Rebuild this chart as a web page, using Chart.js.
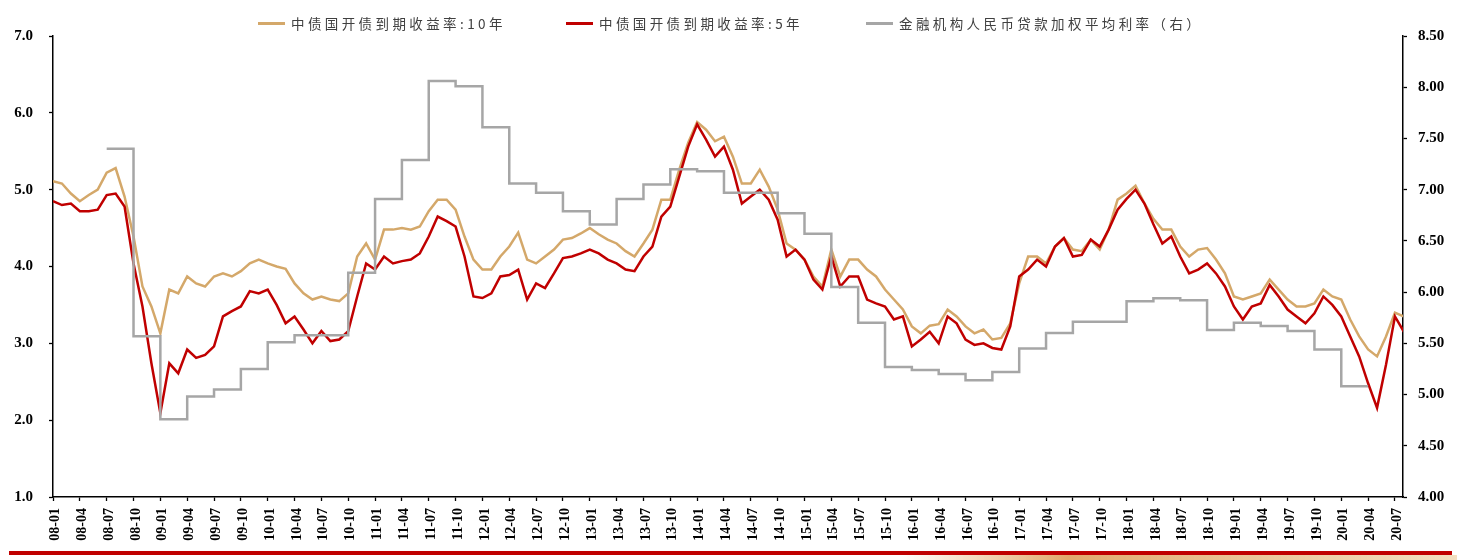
<!DOCTYPE html>
<html>
<head>
<meta charset="utf-8">
<script src="https://cdn.jsdelivr.net/npm/chart.js@4.4.1/dist/chart.umd.min.js"></script>
<style>
  html, body { margin: 0; padding: 0; background: #fff; }
  #wrap { position: relative; width: 1457px; height: 560px; }
  .item { position: absolute; top: 13px; display: flex; align-items: center; white-space: nowrap;
          font-family: "Noto Sans CJK SC", sans-serif; font-size: 13.5px; letter-spacing: 3.4px; color: #404040; }
  .swatch { width: 27px; height: 3px; margin-right: 6px; }
</style>
</head>
<body>
<div id="wrap">
  <canvas id="bondChart" width="1457" height="560"></canvas>
</div>
<script>
// month labels 08-01 .. 20-08 (index 0 = Jan 2008)
const months = []
for (let y = 8; y <= 20; y++) {
  for (let m = 1; m <= 12; m++) {
    months.push(String(y).padStart(2, '0') + '-' + String(m).padStart(2, '0'))
  }
}
const quarterTicks = months.map((_, i) => i).filter(i => i % 3 === 0 && i <= 150)

const seriesNames = ['中债国开债到期收益率:10年', '中债国开债到期收益率:5年', '金融机构人民币贷款加权平均利率（右）']

// monthly readings, 08-01 .. 20-08
const yield10y = [
  5.11, 5.08, 4.95, 4.85, 4.93, 5.00, 5.22, 5.28, 4.91, 4.39, 3.74, 3.48,
  3.13, 3.70, 3.65, 3.87, 3.78, 3.74, 3.87, 3.91, 3.87, 3.94, 4.04, 4.09,
  4.04, 4.00, 3.97, 3.78, 3.65, 3.57, 3.61, 3.57, 3.55, 3.65, 4.13, 4.30,
  4.09, 4.48, 4.48, 4.50, 4.48, 4.52, 4.72, 4.87, 4.87, 4.74, 4.39, 4.09,
  3.96, 3.96, 4.13, 4.26, 4.44, 4.09, 4.04, 4.13, 4.22, 4.35, 4.37, 4.43,
  4.50, 4.42, 4.35, 4.30, 4.20, 4.13, 4.30, 4.48, 4.87, 4.87, 5.26, 5.61,
  5.88, 5.78, 5.63, 5.69, 5.43, 5.08, 5.08, 5.26, 5.04, 4.74, 4.30, 4.22,
  4.09, 3.87, 3.74, 4.22, 3.87, 4.09, 4.09, 3.96, 3.87, 3.70, 3.57, 3.44,
  3.22, 3.13, 3.23, 3.25, 3.44, 3.35, 3.22, 3.13, 3.18, 3.05, 3.07, 3.26,
  3.78, 4.13, 4.13, 4.04, 4.26, 4.37, 4.22, 4.20, 4.35, 4.22, 4.48, 4.87,
  4.95, 5.05, 4.82, 4.62, 4.48, 4.48, 4.26, 4.13, 4.22, 4.24, 4.09, 3.91,
  3.61, 3.57, 3.61, 3.65, 3.83, 3.70, 3.57, 3.48, 3.48, 3.52, 3.70, 3.61,
  3.57, 3.31, 3.09, 2.92, 2.83, 3.09, 3.40, 3.35
]
const yield5y = [
  4.85, 4.80, 4.82, 4.72, 4.72, 4.74, 4.93, 4.95, 4.78, 4.04, 3.48, 2.74,
  2.09, 2.74, 2.61, 2.92, 2.81, 2.85, 2.96, 3.35, 3.42, 3.48, 3.68, 3.65,
  3.70, 3.50, 3.26, 3.35, 3.18, 3.00, 3.16, 3.03, 3.05, 3.16, 3.61, 4.04,
  3.96, 4.13, 4.04, 4.07, 4.09, 4.17, 4.39, 4.65, 4.59, 4.52, 4.13, 3.61,
  3.59, 3.65, 3.87, 3.89, 3.96, 3.57, 3.78, 3.72, 3.91, 4.11, 4.13, 4.17,
  4.22, 4.17, 4.09, 4.04, 3.96, 3.94, 4.13, 4.26, 4.65, 4.78, 5.17, 5.56,
  5.85, 5.65, 5.43, 5.56, 5.26, 4.82, 4.91, 5.00, 4.87, 4.61, 4.13, 4.22,
  4.09, 3.83, 3.70, 4.13, 3.74, 3.87, 3.87, 3.57, 3.52, 3.48, 3.31, 3.35,
  2.96, 3.05, 3.15, 3.00, 3.35, 3.26, 3.05, 2.98, 3.00, 2.94, 2.92, 3.22,
  3.87, 3.96, 4.09, 4.00, 4.26, 4.37, 4.13, 4.15, 4.35, 4.26, 4.48, 4.74,
  4.88, 5.00, 4.82, 4.55, 4.30, 4.39, 4.13, 3.91, 3.96, 4.04, 3.91, 3.74,
  3.48, 3.31, 3.48, 3.52, 3.76, 3.61, 3.44, 3.35, 3.26, 3.39, 3.61, 3.50,
  3.35, 3.09, 2.83, 2.48, 2.16, 2.72, 3.35, 3.15
]

// quarterly loan rate, by quarter start month
const loanQuarters = [
  '08-07', '08-10', '09-01', '09-04', '09-07', '09-10', '10-01', '10-04', '10-07', '10-10',
  '11-01', '11-04', '11-07', '11-10', '12-01', '12-04', '12-07', '12-10', '13-01', '13-04',
  '13-07', '13-10', '14-01', '14-04', '14-07', '14-10', '15-01', '15-04', '15-07', '15-10',
  '16-01', '16-04', '16-07', '16-10', '17-01', '17-04', '17-07', '17-10', '18-01', '18-04',
  '18-07', '18-10', '19-01', '19-04', '19-07', '19-10', '20-01'
]
const loanRate = [
  7.40, 5.57, 4.76, 4.98, 5.05, 5.25, 5.51, 5.58, 5.58, 6.19,
  6.91, 7.29, 8.06, 8.01, 7.61, 7.06, 6.97, 6.79, 6.66, 6.91,
  7.05, 7.20, 7.18, 6.97, 6.97, 6.77, 6.57, 6.05, 5.70, 5.27,
  5.24, 5.20, 5.14, 5.22, 5.45, 5.60, 5.71, 5.71, 5.91, 5.94,
  5.92, 5.63, 5.70, 5.67, 5.62, 5.44, 5.08
]

const loanPoints = loanQuarters.map((q, i) => ({ x: months.indexOf(q), y: loanRate[i] }))
const lastQ = loanPoints[loanPoints.length - 1]
loanPoints.push({ x: lastQ.x + 3, y: lastQ.y })

const colors = ['#D4A86A', '#C00000', '#A6A6A6']

// legend (html)
const legendX = [258, 566, 866]
seriesNames.forEach((name, i) => {
  const el = document.createElement('div')
  el.className = 'item'
  el.style.left = legendX[i] + 'px'
  el.innerHTML = '<span class="swatch" style="background:' + colors[i] + '"></span><span>' + name + '</span>'
  document.getElementById('wrap').appendChild(el)
})

const footerBar = {
  id: 'footerBar',
  afterDraw(chart) {
    const ctx = chart.ctx
    ctx.save()
    const g = ctx.createLinearGradient(900, 0, 1457, 0)
    g.addColorStop(0, 'rgba(225,150,70,0)')
    g.addColorStop(0.3, 'rgba(215,140,60,0.75)')
    g.addColorStop(1, 'rgba(230,190,130,0.5)')
    ctx.fillStyle = g
    ctx.fillRect(900, 555, 557, 5)
    ctx.fillStyle = '#C00000'
    ctx.fillRect(9, 551, 1443, 4)
    ctx.restore()
  }
}

const tickFont = { family: 'Liberation Serif', weight: 'bold', size: 15 }

new Chart(document.getElementById('bondChart'), {
  type: 'line',
  data: {
    datasets: [
      {
        label: seriesNames[0],
        data: yield10y.map((v, i) => ({ x: i, y: v })),
        borderColor: colors[0], borderWidth: 2.5, pointRadius: 0, yAxisID: 'y', order: 3
      },
      {
        label: seriesNames[1],
        data: yield5y.map((v, i) => ({ x: i, y: v })),
        borderColor: colors[1], borderWidth: 2.5, pointRadius: 0, yAxisID: 'y', order: 2
      },
      {
        label: seriesNames[2],
        data: loanPoints,
        borderColor: colors[2], borderWidth: 2.5, pointRadius: 0, yAxisID: 'y2', stepped: true, order: 1
      }
    ]
  },
  options: {
    responsive: false,
    animation: false,
    layout: { padding: { top: 36 } },
    plugins: { legend: { display: false }, tooltip: { enabled: false } },
    scales: {
      x: {
        type: 'linear',
        min: 0,
        max: 150.9,
        afterBuildTicks: s => { s.ticks = quarterTicks.map(v => ({ value: v })) },
        afterFit: s => { s.height = 63 },
        grid: { drawOnChartArea: false, tickLength: 4, tickColor: '#000', tickWidth: 1.3 },
        border: { color: '#000', width: 1.5 },
        ticks: {
          callback: v => months[v],
          autoSkip: false, minRotation: 90, maxRotation: 90, padding: 7, labelOffset: 2.5,
          color: '#000', font: { family: 'Liberation Serif', weight: 'bold', size: 14 }
        }
      },
      y: {
        position: 'left',
        min: 1, max: 7,
        afterFit: s => { s.width = 53 },
        grid: { drawOnChartArea: false, tickLength: 4, tickColor: '#000', tickWidth: 1.3 },
        border: { color: '#000', width: 1.5 },
        ticks: { stepSize: 1, callback: v => v.toFixed(1), padding: 16, color: '#000', font: tickFont }
      },
      y2: {
        position: 'right',
        min: 4, max: 8.5,
        afterFit: s => { s.width = 54 },
        grid: { drawOnChartArea: false, tickLength: 4, tickColor: '#000', tickWidth: 1.3 },
        border: { color: '#000', width: 1.5 },
        ticks: { stepSize: 0.5, callback: v => v.toFixed(2), padding: 11, color: '#000', font: tickFont }
      }
    }
  },
  plugins: [footerBar]
})
</script>
</body>
</html>
